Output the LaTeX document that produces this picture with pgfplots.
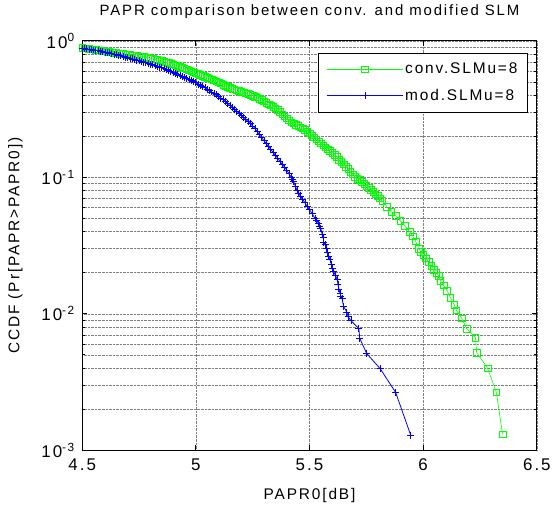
\documentclass[border=0pt]{standalone}
\usepackage{fontspec}
\setmainfont[LetterSpace=12]{Liberation Sans}
\newfontfamily\titlefont[LetterSpace=12.5]{Liberation Sans}
\usepackage{pgfplots}
\pgfplotsset{compat=1.18}
\definecolor{mgreen}{rgb}{0,1,0}
\definecolor{mblue}{rgb}{0,0,1}
\begin{document}
\begin{tikzpicture}
\begin{axis}[
  scale only axis, width=456.5pt, height=411pt,
  xmin=4.5, xmax=6.5, ymode=log, ymin=1e-3, ymax=1,
  xtick={4.5,5,5.5,6,6.5}, xticklabels={4.5,5,5.5,6,6.5},
  ytick={1e-3,1e-2,1e-1,1},
  yticklabels={10\textsuperscript{-3},10\textsuperscript{-2},10\textsuperscript{-1},10\textsuperscript{0}},
  minor ytick={2e-3,3e-3,4e-3,5e-3,6e-3,7e-3,8e-3,9e-3,2e-2,3e-2,4e-2,5e-2,6e-2,7e-2,8e-2,9e-2,0.2,0.3,0.4,0.5,0.6,0.7,0.8,0.9},
  grid=both,
  major grid style={densely dotted, black!50, line width=0.5pt},
  minor grid style={densely dotted, black!50, line width=0.5pt},
  tick align=inside, xtick pos=both, ytick pos=both,
  major tick length=5pt, minor tick length=3pt,
  tick style={black, line width=0.8pt},
  axis line style={black, line width=0.8pt},
  tick label style={font=\fontsize{17}{19}\selectfont},
  xticklabel style={yshift=-5pt},
  yticklabel style={xshift=-4pt},
  title={PAPR comparison between conv. and modified SLM},
  title style={font={\titlefont\fontsize{15}{17}\selectfont}, at={(axis description cs:0.5,1)}, anchor=center, yshift=23pt},
  xlabel={PAPR0[dB]},
  xlabel style={font=\fontsize{15.5}{17}\selectfont, at={(axis description cs:0.5,-0.1095)}, anchor=center},
  ylabel={CCDF (Pr[PAPR>PAPR0])},
  ylabel style={font=\fontsize{15.5}{17}\selectfont, at={(axis description cs:-0.147,0.5)}, anchor=center, rotate=0},
  legend style={at={(0.980,0.971)}, anchor=north east, font=\fontsize{15.5}{17}\selectfont,
    draw=black, line width=0.8pt, inner xsep=8pt, inner ysep=8pt, row sep=10pt, cells={anchor=west}},
  legend image code/.code={\draw[line width=0.9pt, mark repeat=2,mark phase=2] plot coordinates {(0pt,0pt) (38pt,0pt) (76pt,0pt)};},
  clip=false,
  after end axis/.code={\path (rel axis cs:-0.1807,-0.1509) rectangle (rel axis cs:1.0329,1.0998);},
]
\addplot[color=mgreen, line width=0.6pt, mark=square, mark size=3.3pt, mark options={line width=0.6pt}] coordinates {
(4.500,0.890) (4.510,0.885) (4.520,0.880) (4.530,0.875) (4.540,0.870) (4.550,0.865)
(4.560,0.860) (4.570,0.855) (4.580,0.850) (4.590,0.845) (4.600,0.840) (4.610,0.835)
(4.620,0.830) (4.630,0.825) (4.640,0.820) (4.650,0.815) (4.660,0.810) (4.670,0.805)
(4.680,0.800) (4.690,0.797) (4.700,0.793) (4.710,0.789) (4.720,0.785) (4.730,0.781)
(4.740,0.776) (4.750,0.772) (4.760,0.767) (4.770,0.762) (4.780,0.757) (4.790,0.752)
(4.800,0.746) (4.810,0.739) (4.820,0.732) (4.830,0.725) (4.840,0.718) (4.850,0.711)
(4.860,0.703) (4.870,0.696) (4.880,0.688) (4.890,0.680) (4.900,0.672) (4.910,0.664)
(4.920,0.655) (4.930,0.646) (4.940,0.637) (4.950,0.628) (4.960,0.618) (4.970,0.609)
(4.980,0.599) (4.990,0.590) (5.000,0.580) (5.010,0.572) (5.020,0.563) (5.030,0.555)
(5.040,0.546) (5.050,0.538) (5.060,0.530) (5.070,0.522) (5.080,0.514) (5.090,0.505)
(5.100,0.496) (5.110,0.487) (5.120,0.478) (5.130,0.470) (5.140,0.462) (5.150,0.455)
(5.160,0.447) (5.170,0.441) (5.180,0.435) (5.190,0.430) (5.200,0.424) (5.210,0.419)
(5.220,0.413) (5.230,0.408) (5.240,0.402) (5.250,0.397) (5.260,0.391) (5.270,0.385)
(5.280,0.378) (5.290,0.369) (5.300,0.360) (5.310,0.351) (5.320,0.343) (5.330,0.336)
(5.340,0.328) (5.350,0.320) (5.360,0.312) (5.370,0.301) (5.380,0.290) (5.390,0.280)
(5.400,0.270) (5.410,0.261) (5.420,0.253) (5.430,0.248) (5.440,0.243) (5.450,0.238)
(5.460,0.233) (5.470,0.228) (5.480,0.222) (5.490,0.216) (5.500,0.210) (5.510,0.203)
(5.520,0.197) (5.530,0.190) (5.540,0.184) (5.550,0.178) (5.560,0.172) (5.570,0.166)
(5.580,0.161) (5.590,0.156) (5.600,0.152) (5.610,0.146) (5.620,0.141) (5.630,0.135)
(5.640,0.130) (5.650,0.125) (5.660,0.120) (5.670,0.115) (5.680,0.110) (5.690,0.105)
(5.700,0.101) (5.710,0.098) (5.720,0.096) (5.730,0.093) (5.740,0.090) (5.750,0.087)
(5.760,0.084) (5.770,0.081) (5.780,0.078) (5.790,0.075) (5.800,0.073) (5.810,0.070)
(5.820,0.067) (5.840,0.061) (5.860,0.056) (5.880,0.052) (5.900,0.048) (5.920,0.044)
(5.940,0.040) (5.955,0.037) (5.967,0.034) (5.980,0.030) (5.990,0.0285) (6.000,0.027)
(6.012,0.0255) (6.024,0.024) (6.035,0.0225) (6.046,0.021) (6.058,0.020) (6.068,0.019)
(6.076,0.0175) (6.090,0.0162) (6.105,0.0148) (6.120,0.0131) (6.137,0.0116) (6.146,0.0106)
(6.169,0.0093) (6.191,0.0078) (6.230,0.0067) (6.235,0.0052) (6.283,0.0040) (6.322,0.00265)
(6.349,0.00131)
};
\addlegendentry{conv.SLMu=8}
\addplot[color=mblue, line width=0.8pt, mark=+, mark size=3.5pt, mark options={line width=0.8pt}] coordinates {
(4.500,0.880) (4.510,0.876) (4.520,0.872) (4.530,0.867) (4.540,0.862) (4.550,0.857)
(4.560,0.852) (4.570,0.846) (4.580,0.840) (4.590,0.834) (4.600,0.828) (4.610,0.822)
(4.620,0.815) (4.630,0.808) (4.640,0.800) (4.650,0.793) (4.660,0.785) (4.670,0.777)
(4.680,0.768) (4.690,0.760) (4.700,0.752) (4.710,0.745) (4.720,0.737) (4.730,0.730)
(4.740,0.722) (4.750,0.714) (4.760,0.706) (4.770,0.698) (4.780,0.690) (4.790,0.683)
(4.800,0.676) (4.810,0.668) (4.820,0.660) (4.830,0.651) (4.840,0.642) (4.850,0.634)
(4.860,0.625) (4.870,0.616) (4.880,0.606) (4.890,0.597) (4.900,0.588) (4.910,0.579)
(4.920,0.570) (4.930,0.560) (4.940,0.550) (4.950,0.540) (4.960,0.530) (4.970,0.520)
(4.980,0.510) (4.990,0.501) (5.000,0.492) (5.010,0.482) (5.020,0.472) (5.030,0.463)
(5.040,0.453) (5.050,0.443) (5.060,0.432) (5.070,0.422) (5.080,0.412) (5.090,0.402)
(5.100,0.392) (5.110,0.381) (5.120,0.370) (5.130,0.359) (5.140,0.348) (5.150,0.336)
(5.160,0.325) (5.170,0.315) (5.180,0.305) (5.190,0.295) (5.200,0.285) (5.210,0.275)
(5.220,0.266) (5.230,0.256) (5.240,0.247) (5.250,0.238) (5.260,0.228) (5.270,0.216)
(5.280,0.205) (5.290,0.195) (5.300,0.185) (5.310,0.176) (5.320,0.168) (5.330,0.160)
(5.340,0.152) (5.350,0.145) (5.360,0.138) (5.370,0.131) (5.380,0.125) (5.390,0.119)
(5.400,0.113) (5.410,0.106) (5.420,0.100) (5.425,0.096) (5.430,0.093) (5.438,0.086)
(5.445,0.080) (5.452,0.076) (5.460,0.073) (5.470,0.069) (5.480,0.065) (5.490,0.061)
(5.500,0.058) (5.512,0.054) (5.524,0.050) (5.532,0.048) (5.540,0.046) (5.545,0.044)
(5.550,0.042) (5.556,0.038) (5.560,0.036) (5.563,0.0335) (5.569,0.032) (5.575,0.030)
(5.580,0.028) (5.585,0.0265) (5.590,0.025) (5.596,0.023) (5.602,0.0215) (5.607,0.0203)
(5.614,0.019) (5.621,0.018) (5.625,0.0165) (5.629,0.0152) (5.634,0.0142) (5.638,0.0135)
(5.643,0.0129) (5.650,0.0113) (5.664,0.0103) (5.670,0.0095) (5.682,0.0089) (5.717,0.0078)
(5.721,0.0066) (5.752,0.0051) (5.811,0.00396) (5.879,0.00265) (5.945,0.00129)
};
\addlegendentry{mod.SLMu=8}
\end{axis}
\end{tikzpicture}
\end{document}
